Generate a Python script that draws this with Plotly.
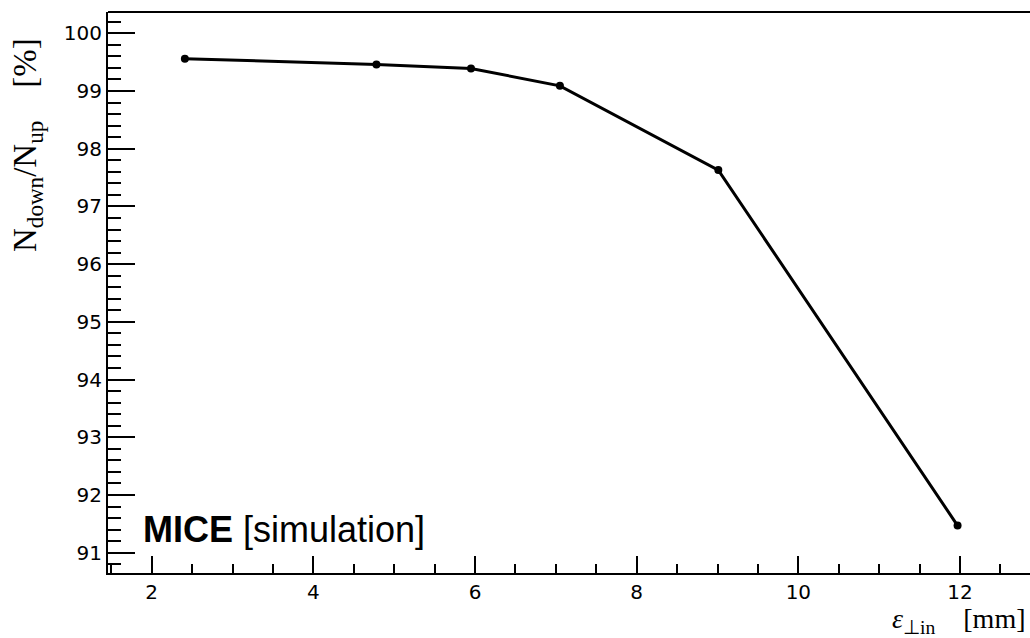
import plotly.graph_objects as go

emittance = [2.41, 4.78, 5.95, 7.05, 9.01, 11.97]
transmission = [99.56, 99.46, 99.39, 99.09, 97.63, 91.47]

x_tickvals = [2, 4, 6, 8, 10, 12]
y_tickvals = [91, 92, 93, 94, 95, 96, 97, 98, 99, 100]

fig = go.Figure()
fig.add_trace(go.Scatter(
    x=emittance, y=transmission, mode="lines+markers",
    line=dict(color="black", width=3),
    marker=dict(color="black", size=8),
    showlegend=False,
))

fig.update_layout(
    width=1030, height=638,
    margin=dict(l=108, r=0, t=12, b=65),
    paper_bgcolor="white", plot_bgcolor="white",
    font=dict(family="DejaVu Sans", size=20, color="black"),
    xaxis=dict(
        range=[1.459, 12.866], tickvals=x_tickvals,
        ticks="inside", ticklen=17, tickwidth=2, tickcolor="black",
        showline=True, linecolor="black", linewidth=2,
        showgrid=False, zeroline=False,
        minor=dict(dtick=0.5, tick0=0, ticks="inside", ticklen=9, tickwidth=2, tickcolor="black", showgrid=False),
        tickfont=dict(family="DejaVu Sans", size=20, color="black"),
    ),
    yaxis=dict(
        range=[90.648, 100.369], tickvals=y_tickvals,
        ticks="inside", ticklen=27, tickwidth=2, tickcolor="black",
        showline=True, linecolor="black", linewidth=2,
        showgrid=False, zeroline=False,
        minor=dict(dtick=0.2, tick0=0, ticks="inside", ticklen=13, tickwidth=2, tickcolor="black", showgrid=False),
        tickfont=dict(family="DejaVu Sans", size=20, color="black"),
    ),
    shapes=[dict(type="line", xref="paper", yref="paper", x0=0, x1=1, y0=1, y1=1,
                 line=dict(color="black", width=2))],
    annotations=[
        dict(text="N<sub>down</sub>/N<sub>up</sub>\u2003[%]", textangle=-90,
             xref="paper", yref="paper", x=(27 - 108) / 922, y=1 - (145 - 12) / 561,
             xanchor="center", yanchor="middle", showarrow=False,
             font=dict(family="Liberation Serif", size=33, color="black")),
        dict(text="<i>ε</i><sub>⊥in</sub>\u2003[mm]",
             xref="paper", yref="paper", x=(1027 - 108) / 922, y=-(621 - 573) / 561,
             xanchor="right", yanchor="middle", showarrow=False, borderpad=0,
             font=dict(family="Liberation Serif", size=28, color="black")),
        dict(text="<b>MICE</b> [simulation]",
             xref="paper", yref="paper", x=(141 - 108) / 922, y=1 - (529 - 12) / 561,
             xanchor="left", yanchor="middle", showarrow=False,
             font=dict(family="Liberation Sans", size=36, color="black")),
    ],
)

fig.write_html("out.html")
